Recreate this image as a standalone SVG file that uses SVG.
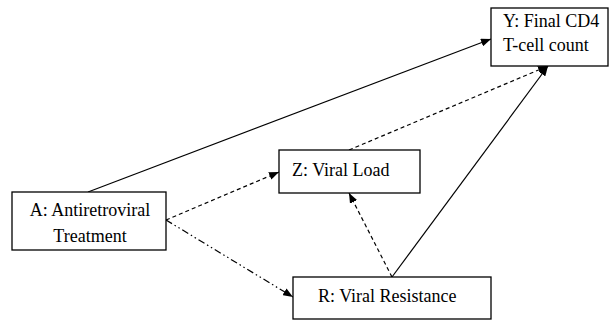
<svg xmlns="http://www.w3.org/2000/svg" width="610" height="323" viewBox="0 0 610 323">
  <style>
    .box { fill: #ffffff; stroke: #000000; stroke-width: 1.3; }
    .lbl { font-family: 'Liberation Serif', 'Times New Roman', serif; font-size: 18px; fill: #000000; }
    .edge { fill: none; stroke: #000000; stroke-width: 1.2; }
    .dash { stroke-dasharray: 4 3; }
    .dashdot { stroke-dasharray: 7 3 1.5 3 1.5 3; }
  </style>
  <defs>
    <marker id="arrow" viewBox="0 0 10 8" refX="10" refY="4" markerWidth="10" markerHeight="8" markerUnits="userSpaceOnUse" orient="auto">
      <path d="M0,0 L10,4 L0,8 Z" fill="#000000"/>
    </marker>
  </defs>

  <g id="connectors">
    <line class="edge" x1="88" y1="192" x2="491" y2="39" marker-end="url(#arrow)"/>
    <line class="edge dash" x1="166" y1="220" x2="279" y2="172" marker-end="url(#arrow)"/>
    <line class="edge dashdot" x1="166" y1="220" x2="293" y2="297" marker-end="url(#arrow)"/>
    <line class="edge dash" x1="349" y1="150" x2="548" y2="66" marker-end="url(#arrow)"/>
    <line class="edge" x1="392" y1="277" x2="548" y2="66" marker-end="url(#arrow)"/>
    <line class="edge dash" x1="392" y1="277" x2="349" y2="193" marker-end="url(#arrow)"/>
  </g>

  <g id="node-y">
    <rect class="box" x="491" y="8" width="117" height="58"/>
    <text class="lbl" x="503" y="27">Y: Final CD4</text>
    <text class="lbl" x="503" y="51">T-cell count</text>
  </g>

  <g id="node-a">
    <rect class="box" x="12" y="192" width="154" height="58"/>
    <text class="lbl" x="90" y="216" text-anchor="middle">A: Antiretroviral</text>
    <text class="lbl" x="90" y="242" text-anchor="middle">Treatment</text>
  </g>

  <g id="node-z">
    <rect class="box" x="279" y="150" width="141" height="43"/>
    <text class="lbl" x="292" y="176">Z: Viral Load</text>
  </g>

  <g id="node-r">
    <rect class="box" x="293" y="277" width="198" height="42"/>
    <text class="lbl" x="318" y="302">R: Viral Resistance</text>
  </g>
</svg>
